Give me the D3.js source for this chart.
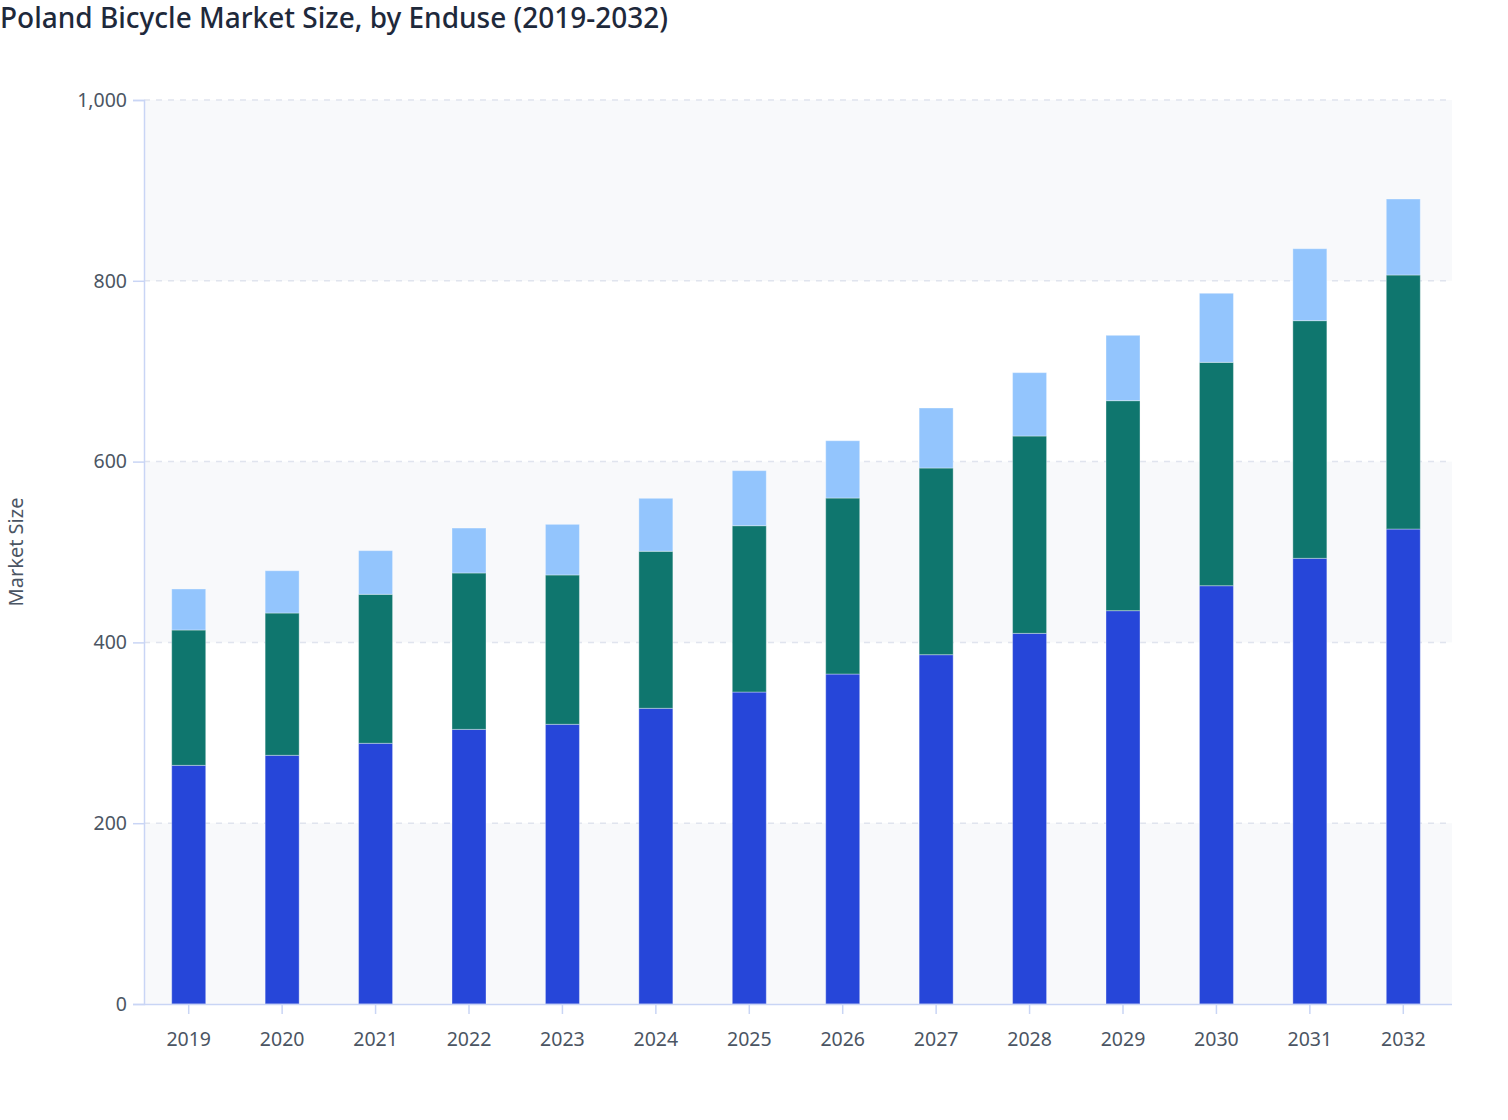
<!DOCTYPE html>
<html>
<head>
<meta charset="utf-8">
<script src="https://cdn.jsdelivr.net/npm/d3@7/dist/d3.min.js"></script>
<style>
  html, body { margin: 0; padding: 0; background: #ffffff; }
  svg { display: block; font-family: "Noto Sans", "Open Sans", sans-serif; }
</style>
</head>
<body>
<svg id="chart" width="1508" height="1120"></svg>
<script>
const years = ["2019","2020","2021","2022","2023","2024","2025","2026","2027","2028","2029","2030","2031","2032"];
const seriesNames = ["Segment A", "Segment B", "Segment C"];
const seriesA = [264.0, 275.1, 288.4, 303.8, 309.4, 327.1, 345.1, 365.0, 386.4, 410.0, 435.1, 462.7, 493.0, 525.4];
const seriesB = [149.7, 157.4, 164.8, 173.0, 165.2, 173.7, 184.0, 194.7, 206.5, 218.3, 232.3, 247.1, 262.9, 281.0];
const seriesC = [45.4, 46.8, 48.3, 49.7, 56.0, 58.6, 60.9, 63.4, 66.4, 70.1, 72.3, 76.4, 79.6, 84.1];
const yTicks = [0, 200, 400, 600, 800, 1000];
const colors = ["#2646d9", "#0f766e", "#93c5fd"];

const title = "Poland Bicycle Market Size, by Enduse (2019-2032)";
const yLabel = "Market Size";

const svg = d3.select("#chart");
const m = { left: 144, right: 1452, top: 100, bottom: 1004 };

const x = d3.scaleBand().domain(years).range([m.left - 2, m.right - 2]).paddingInner(0.636).paddingOuter(0.318);
const y = d3.scaleLinear().domain([0, 1000]).range([m.bottom, m.top]);

const rows = years.map((yr, i) => ({ year: yr, a: seriesA[i], b: seriesB[i], c: seriesC[i] }));
const stacked = d3.stack().keys(["a", "b", "c"])(rows);

// alternating background bands
const bands = [[0, 200], [400, 600], [800, 1000]];
svg.append("g").selectAll("rect").data(bands).join("rect")
  .attr("x", m.left)
  .attr("width", m.right - m.left)
  .attr("y", d => y(d[1]))
  .attr("height", d => y(d[0]) - y(d[1]))
  .attr("fill", "#f8f9fb");

// gridlines
svg.append("g").selectAll("line").data(yTicks.filter(t => t > 0)).join("line")
  .attr("x1", m.left).attr("x2", m.right)
  .attr("y1", d => y(d)).attr("y2", d => y(d))
  .attr("stroke", "#e0e4ee").attr("stroke-width", 1.5)
  .attr("stroke-dasharray", "6,6");

// bars
svg.append("g").selectAll("g").data(stacked).join("g")
  .attr("fill", (d, i) => colors[i])
  .selectAll("rect").data(d => d).join("rect")
  .attr("x", d => x(d.data.year))
  .attr("width", x.bandwidth())
  .attr("y", d => y(d[1]))
  .attr("height", d => y(d[0]) - y(d[1]))
  .attr("stroke", "rgba(255,255,255,0.35)")
  .attr("stroke-width", 1);

// y axis
const yAxis = svg.append("g").attr("transform", `translate(${m.left},0)`)
  .call(d3.axisLeft(y).tickValues(yTicks).tickFormat(d3.format(",")).tickSize(11).tickPadding(6));
yAxis.select(".domain").attr("stroke", "#c9d5f5").attr("stroke-width", 1.5);
yAxis.selectAll(".tick line").attr("stroke", "#c9d5f5").attr("stroke-width", 1.5);
yAxis.selectAll(".tick text").attr("fill", "#4b5563").attr("font-size", 19.5)
  .attr("font-family", "Noto Sans, Open Sans, sans-serif");

// x axis
const xAxis = svg.append("g").attr("transform", `translate(0,${m.bottom})`)
  .call(d3.axisBottom(x).tickSize(10).tickPadding(18).tickSizeOuter(0));
xAxis.select(".domain").attr("stroke", "#c9d5f5").attr("stroke-width", 1.5)
  .attr("d", `M${m.left},0.5H${m.right}`);
xAxis.selectAll(".tick line").attr("stroke", "#c9d5f5").attr("stroke-width", 1.5);
xAxis.selectAll(".tick text").attr("fill", "#4b5563").attr("font-size", 19.5)
  .attr("font-family", "Noto Sans, Open Sans, sans-serif");

// title
svg.append("text")
  .attr("x", 0).attr("y", 28)
  .attr("fill", "#1e293b")
  .attr("font-size", 28)
  .attr("font-weight", 500)
  .text(title);

// y label
svg.append("text")
  .attr("transform", `translate(23,${(m.top + m.bottom) / 2}) rotate(-90)`)
  .attr("text-anchor", "middle")
  .attr("fill", "#4b5563")
  .attr("font-size", 20)
  .text(yLabel);
</script>
</body>
</html>
